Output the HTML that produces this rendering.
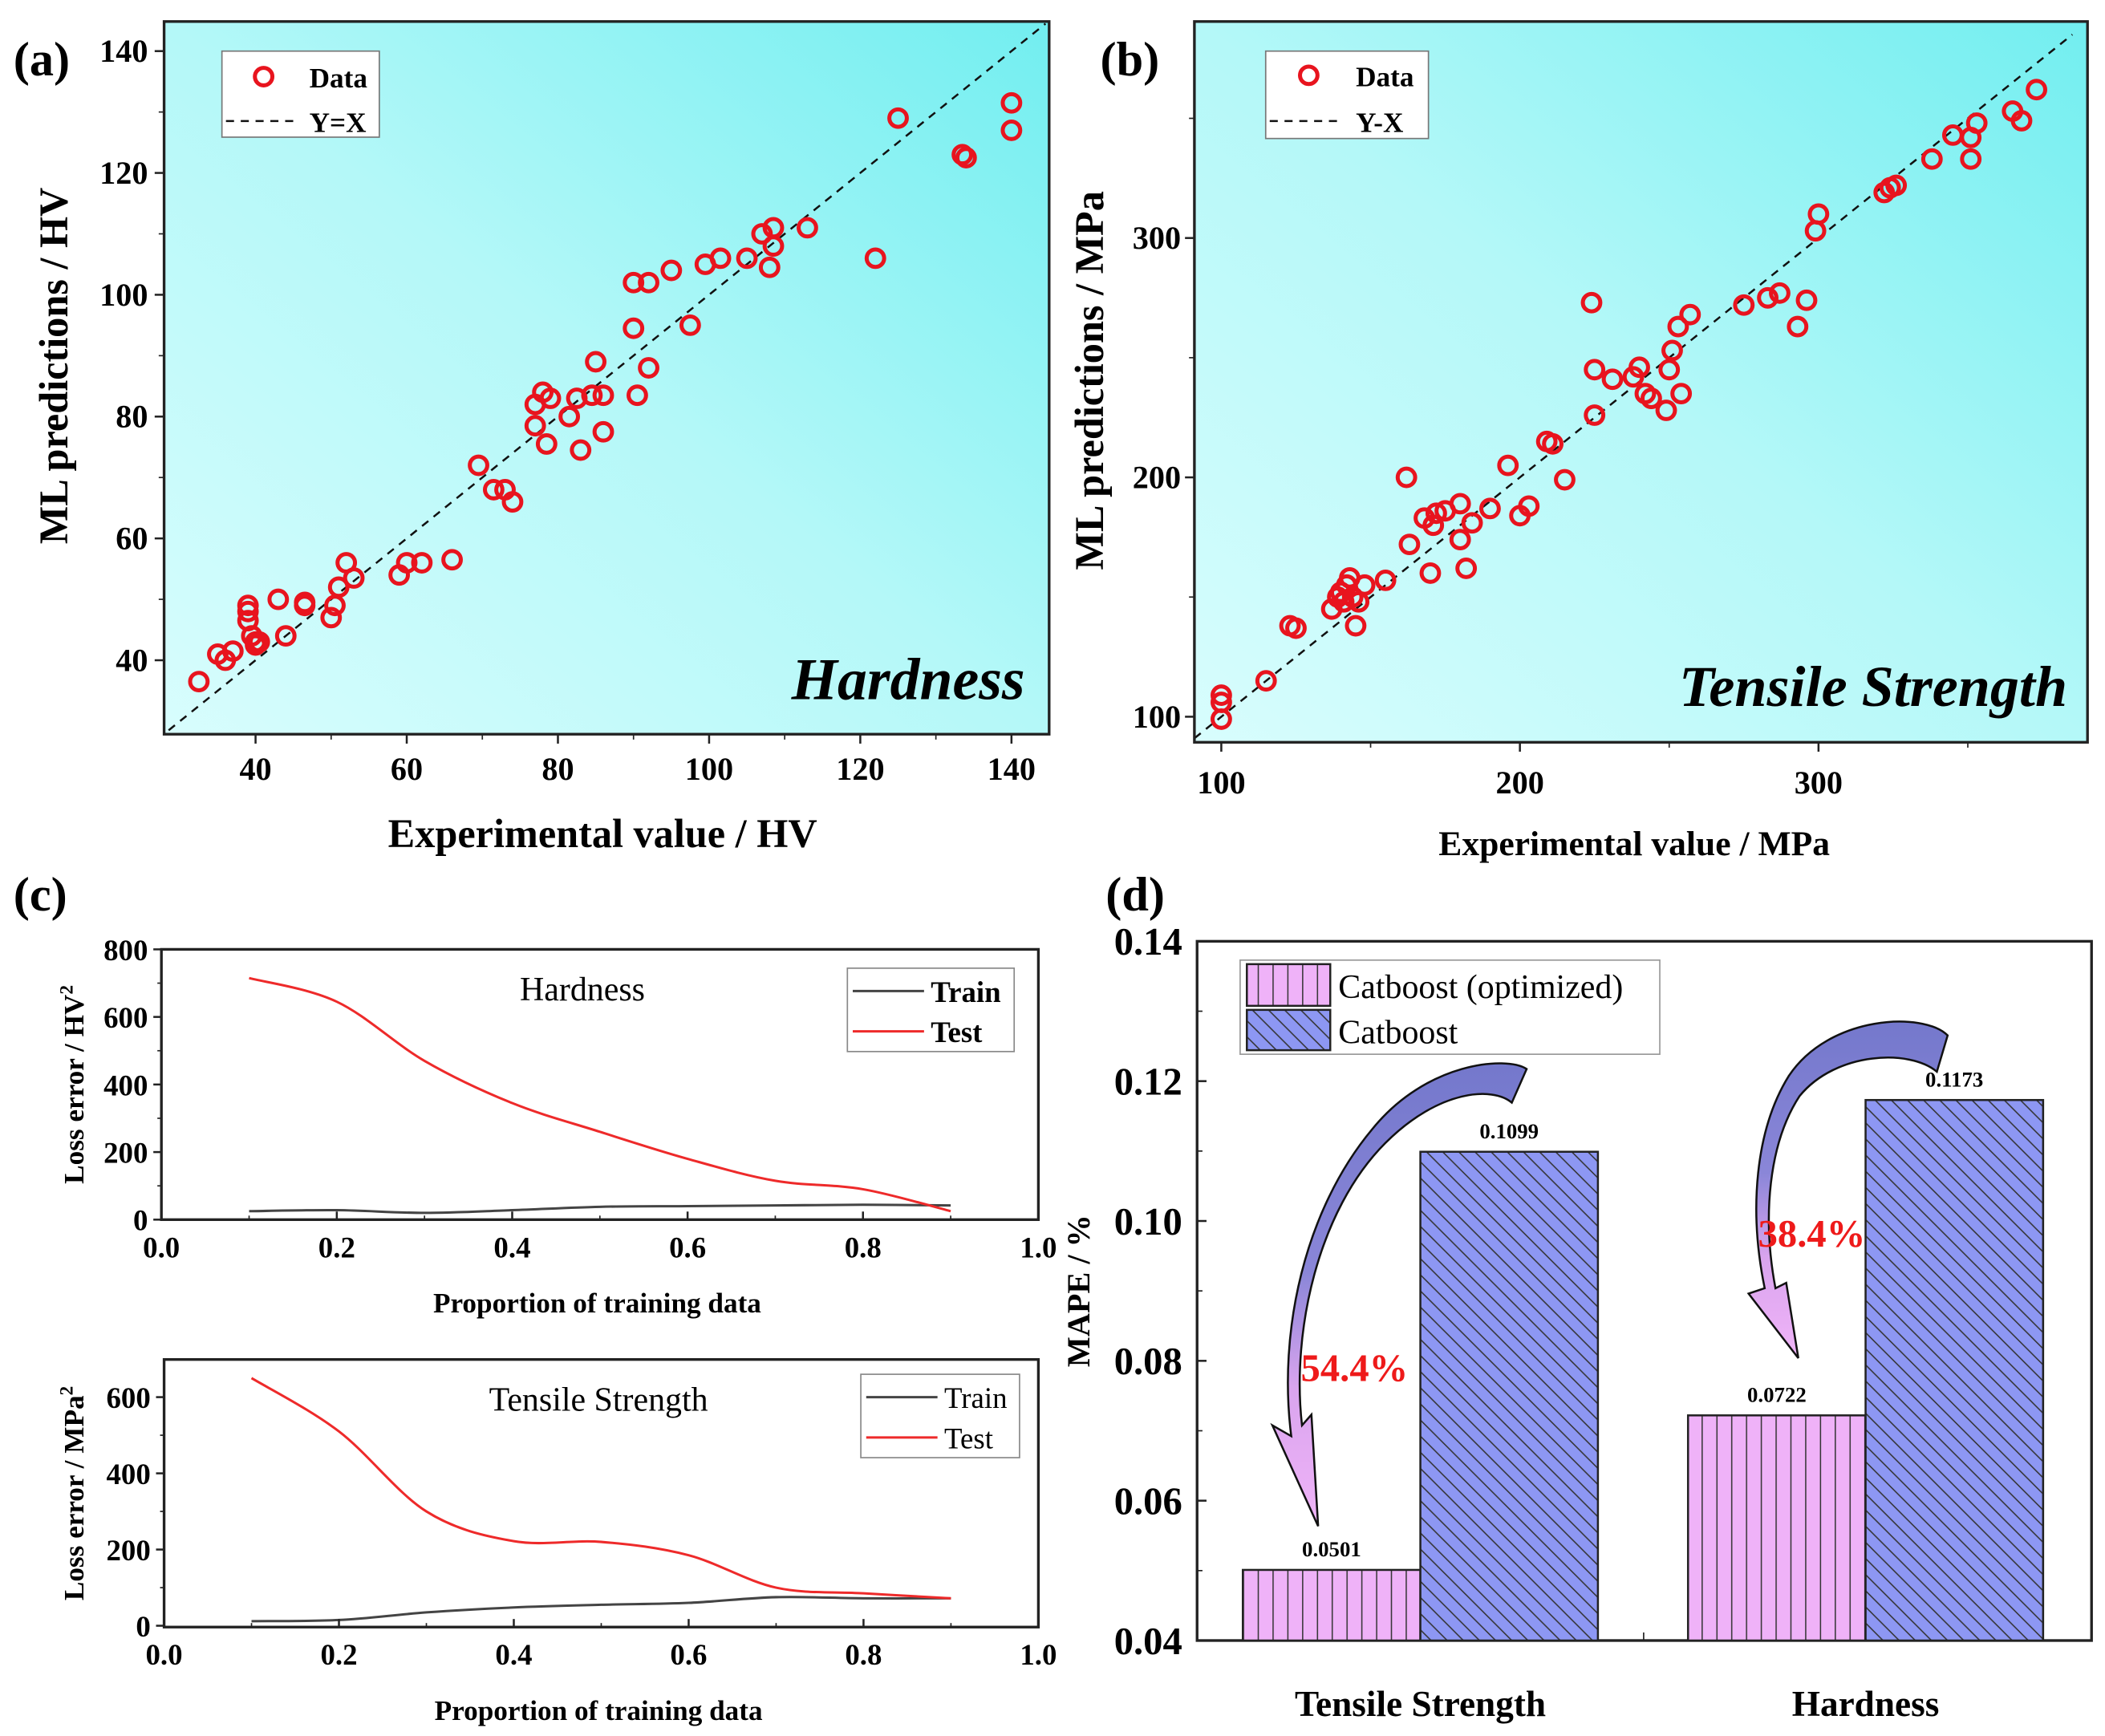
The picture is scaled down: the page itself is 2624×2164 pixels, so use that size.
<!DOCTYPE html>
<html><head><meta charset="utf-8"><style>
html,body{margin:0;padding:0;background:#fff;}
svg{display:block;font-family:"Liberation Serif",serif;}
</style></head><body>
<svg id="fig" width="2624" height="2164" viewBox="0 0 1565 1291" preserveAspectRatio="none" xmlns="http://www.w3.org/2000/svg">
<defs>
<linearGradient id="bgA" x1="0" y1="1" x2="1" y2="0"><stop offset="0" stop-color="#d8fdfd"/><stop offset="0.5" stop-color="#b4f8f8"/><stop offset="1" stop-color="#72eef0"/></linearGradient>
<pattern id="vhatch" width="11" height="10" patternUnits="userSpaceOnUse"><rect width="11" height="10" fill="#efb2f8"/><line x1="0.5" y1="0" x2="0.5" y2="10" stroke="#333" stroke-width="0.9"/></pattern>
<pattern id="dhatch" width="12" height="12" patternUnits="userSpaceOnUse"><rect width="12" height="12" fill="#8d97f3"/><path d="M-3,-3 L15,15 M-3,9 L3,15 M9,-3 L15,3" stroke="#333" stroke-width="0.9"/></pattern>
<linearGradient id="arr1" x1="0" y1="0" x2="0" y2="1"><stop offset="0" stop-color="#7478cc"/><stop offset="0.45" stop-color="#8a86d8"/><stop offset="0.7" stop-color="#d9a4ee"/><stop offset="1" stop-color="#f0b4f8"/></linearGradient>
</defs>
<g id="root"></g>
</svg>
<script>
// ---------- data ----------
const hardExp = [32.5,35,36,37,39,39,39,39.5,40,40,40.5,43,44,46.5,46.5,50,50.5,51,52,53,59,60,62,66,69.5,71.5,73,74,77,77,78,78.5,79,81.5,82.5,83,84.5,85,86,86,90,90,90.5,92,92,95,97.5,99.5,101.5,105,107,108,108.5,108.5,113,122,125,133.5,134,140,140];
const hardPred = [36.5,41,40,41.5,49,48,46.5,44,43,42.5,43,50,44,49,49.5,47,49,52,56,53.5,54,56,56,56.5,72,68,68,66,82,78.5,84,75.5,83,80,83,74.5,83.5,89,83.5,77.5,102,94.5,83.5,102,88,104,95,105,106,106,110,104.5,108,111,111,106,129,123,122.5,131.5,127];
const hardTicks = [40,60,80,100,120,140];
const tsExp = [100,100,100,115,123,125,137,139,140,141,142,143,144,145,146,148,155,162,163,168,170,171,172,175,180,180,182,184,190,196,200,203,209,211,215,224,225,225,231,238,240,242,244,249,250,251,253,254,257,275,283,287,293,296,299,300,322,324,326,338,345,351,351,353,365,368,373];
const tsPred = [99,106,109,115,138,137,145,150,152,148,155,158,150,138,148,155,157,200,172,183,160,180,185,186,174,189,162,181,187,205,184,188,215,214,199,273,245,226,241,242,246,235,233,228,245,253,263,235,268,272,275,277,263,274,303,310,319,321,322,333,343,333,342,348,353,349,362];
const tsTicks = [100,200,300];
const propX = [0.1,0.2,0.3,0.4,0.5,0.6,0.7,0.8,0.9];
const hardTest = [715,645,470,345,260,180,115,90,25];
const hardTrain = [25,28,20,28,38,40,42,44,42];
const tsTest = [650,510,300,222,220,185,100,85,72];
const tsTrain = [12,15,35,48,55,60,75,72,72];
const propTicks = [0.0,0.2,0.4,0.6,0.8,1.0];
const hardLossTicks = [0,200,400,600,800];
const tsLossTicks = [0,200,400,600];
const barCats = ["Tensile Strength","Hardness"];
const mapeOpt = [0.0501,0.0722];
const mapeBase = [0.1099,0.1173];
const mapeLabelsOpt = ["0.0501","0.0722"];
const mapeLabelsBase = ["0.1099","0.1173"];
const mapeTicks = [0.04,0.06,0.08,0.10,0.12,0.14];
const reductions = ["54.4%","38.4%"];

// ---------- helpers ----------
const NS="http://www.w3.org/2000/svg";
const root=document.getElementById('root');
function mk(tag,attrs,parent,text){const e=document.createElementNS(NS,tag);for(const k in attrs)e.setAttribute(k,attrs[k]);if(text!==undefined)e.textContent=text;(parent||root).appendChild(e);return e;}
function lin(d0,d1,r0,r1){return v=>r0+(v-d0)*(r1-r0)/(d1-d0);}
function smoothPath(pts){let d=`M${pts[0][0]},${pts[0][1]}`;for(let i=0;i<pts.length-1;i++){const p0=pts[i-1]||pts[i],p1=pts[i],p2=pts[i+1],p3=pts[i+2]||p2;const c1=[p1[0]+(p2[0]-p0[0])/6,p1[1]+(p2[1]-p0[1])/6],c2=[p2[0]-(p3[0]-p1[0])/6,p2[1]-(p3[1]-p1[1])/6];d+=` C${c1[0]},${c1[1]} ${c2[0]},${c2[1]} ${p2[0]},${p2[1]}`;}return d;}

// ---------- panel (a) ----------
(function(){
const g=mk('g',{});


const L=122,R=780,T=16,B=546;
const x=lin(40,140,190,752), y=lin(40,140,491,38);
const bg=mk('rect',{x:L,y:T,width:R-L,height:B-T,fill:'url(#bgA)'},g);


const diag=mk('line',{x1:x(28.5),y1:y(28.5),x2:x(144.5),y2:y(144.5),stroke:'#111','stroke-width':1.5,'stroke-dasharray':'6,5'},g);


hardExp.forEach((v,i)=>{const c=mk('circle',{cx:x(v),cy:y(hardPred[i]),r:6.5,fill:'none',stroke:'#e8141e','stroke-width':3},g);

});
mk('rect',{x:L,y:T,width:R-L,height:B-T,fill:'none',stroke:'#222','stroke-width':2},g);
hardTicks.forEach(t=>{mk('line',{x1:x(t),y1:B,x2:x(t),y2:B+7,stroke:'#222','stroke-width':1.5},g);
const tl=mk('text',{x:x(t),y:580,'font-size':24,'font-weight':'bold','text-anchor':'middle'},g,t);


mk('line',{x1:L,y1:y(t),x2:L-7,y2:y(t),stroke:'#222','stroke-width':1.5},g);
const yl=mk('text',{x:110,y:y(t)+8,'font-size':24,'font-weight':'bold','text-anchor':'end'},g,t);

});
[50,70,90,110,130].forEach(t=>{mk('line',{x1:x(t),y1:B,x2:x(t),y2:B+4,stroke:'#222'},g);mk('line',{x1:L,y1:y(t),x2:L-4,y2:y(t),stroke:'#222'},g);});
const xt=mk('text',{x:448,y:630,'font-size':30,'font-weight':'bold','text-anchor':'middle'},g,'Experimental value / HV');


const yt=mk('text',{x:0,y:0,'font-size':30,'font-weight':'bold','text-anchor':'middle',transform:'translate(50,272) rotate(-90)'},g,'ML predictions / HV');


const lb=mk('text',{x:10,y:56,'font-size':36,'font-weight':'bold'},g,'(a)');


const an=mk('text',{x:762,y:520,'font-size':44,'font-weight':'bold','font-style':'italic','text-anchor':'end'},g,'Hardness');


const lg=mk('g',{},g);


mk('rect',{x:165,y:38,width:117,height:64,fill:'#fff',stroke:'#777','stroke-width':1},lg);
mk('circle',{cx:196,cy:57,r:6.5,fill:'none',stroke:'#e8141e','stroke-width':3},lg);
mk('text',{x:230,y:65,'font-size':21,'font-weight':'bold'},lg,'Data');
mk('line',{x1:168,y1:90,x2:222,y2:90,stroke:'#111','stroke-width':1.5,'stroke-dasharray':'6,5'},lg);
mk('text',{x:230,y:98,'font-size':21,'font-weight':'bold'},lg,'Y=X');
})();

// ---------- panel (b) ----------
(function(){
const g=mk('g',{});


const L=888,R=1552,T=16,B=552;
const x=lin(100,300,908,1352), y=lin(100,300,533,177);
const bg=mk('rect',{x:L,y:T,width:R-L,height:B-T,fill:'url(#bgA)'},g);


const diag=mk('line',{x1:x(91),y1:y(91),x2:x(385),y2:y(385),stroke:'#111','stroke-width':1.5,'stroke-dasharray':'6,5'},g);


tsExp.forEach((v,i)=>{const c=mk('circle',{cx:x(v),cy:y(tsPred[i]),r:6.5,fill:'none',stroke:'#e8141e','stroke-width':3},g);

});
mk('rect',{x:L,y:T,width:R-L,height:B-T,fill:'none',stroke:'#222','stroke-width':2},g);
tsTicks.forEach(t=>{mk('line',{x1:x(t),y1:B,x2:x(t),y2:B+7,stroke:'#222','stroke-width':1.5},g);
const tl=mk('text',{x:x(t),y:590,'font-size':24,'font-weight':'bold','text-anchor':'middle'},g,t);


mk('line',{x1:L,y1:y(t),x2:L-7,y2:y(t),stroke:'#222','stroke-width':1.5},g);
const yl=mk('text',{x:878,y:y(t)+8,'font-size':24,'font-weight':'bold','text-anchor':'end'},g,t);

});
[150,250,350].forEach(t=>{mk('line',{x1:x(t),y1:B,x2:x(t),y2:B+4,stroke:'#222'},g);mk('line',{x1:L,y1:y(t),x2:L-4,y2:y(t),stroke:'#222'},g);});
const xt=mk('text',{x:1215,y:636,'font-size':26,'font-weight':'bold','text-anchor':'middle'},g,'Experimental value / MPa');


const yt=mk('text',{x:0,y:0,'font-size':30,'font-weight':'bold','text-anchor':'middle',transform:'translate(820,283) rotate(-90)'},g,'ML predictions / MPa');


const lb=mk('text',{x:818,y:56,'font-size':36,'font-weight':'bold'},g,'(b)');


const an=mk('text',{x:1537,y:525,'font-size':43,'font-weight':'bold','font-style':'italic','text-anchor':'end'},g,'Tensile Strength');


const lg=mk('g',{},g);


mk('rect',{x:941,y:38,width:121,height:65,fill:'#fff',stroke:'#777','stroke-width':1},lg);
mk('circle',{cx:973,cy:56,r:6.5,fill:'none',stroke:'#e8141e','stroke-width':3},lg);
mk('text',{x:1008,y:64,'font-size':21,'font-weight':'bold'},lg,'Data');
mk('line',{x1:944,y1:90,x2:998,y2:90,stroke:'#111','stroke-width':1.5,'stroke-dasharray':'6,5'},lg);
mk('text',{x:1008,y:98,'font-size':21,'font-weight':'bold'},lg,'Y-X');
})();

// ---------- panel (c) ----------
function lossPanel(name,L,R,T,B,ymax,yticks,yZeroPx,yRefVal,yRefPx,test,train,title,ytitle,sup,legend,legendBold,tickY,titleY){
const g=mk('g',{});


const x=lin(0,1,L,R), y=lin(0,yRefVal,yZeroPx,yRefPx);
mk('rect',{x:L,y:T,width:R-L,height:B-T,fill:'#fff',stroke:'#222','stroke-width':2},g);
const trp=propX.map((p,i)=>[x(p),y(train[i])]);
const tep=propX.map((p,i)=>[x(p),y(test[i])]);
const l1=mk('path',{d:smoothPath(trp),fill:'none',stroke:'#444','stroke-width':1.8},g);


const l2=mk('path',{d:smoothPath(tep),fill:'none',stroke:'#ee2a2a','stroke-width':1.8},g);


propTicks.forEach(t=>{mk('line',{x1:x(t),y1:B,x2:x(t),y2:B-6,stroke:'#222','stroke-width':1.5},g);
const tl=mk('text',{x:x(t),y:tickY,'font-size':22,'font-weight':'bold','text-anchor':'middle'},g,t.toFixed(1));

});
[0.1,0.3,0.5,0.7,0.9].forEach(t=>mk('line',{x1:x(t),y1:B,x2:x(t),y2:B-3,stroke:'#222'},g));
yticks.forEach(t=>{mk('line',{x1:L,y1:y(t),x2:L-6,y2:y(t),stroke:'#222','stroke-width':1.5},g);
const yl=mk('text',{x:L-10,y:y(t)+8,'font-size':22,'font-weight':'bold','text-anchor':'end'},g,t);


if(y(t+100)>T+2) mk('line',{x1:L,y1:y(t+100),x2:L-3,y2:y(t+100),stroke:'#222'},g);});
const xt=mk('text',{x:(L+R)/2-2,y:titleY,'font-size':21,'font-weight':'bold','text-anchor':'middle'},g,'Proportion of training data');


const yt=mk('text',{x:0,y:0,'font-size':21,'font-weight':'bold','text-anchor':'middle',transform:`translate(62,${(T+B)/2}) rotate(-90)`},g);


mk('tspan',{},yt,ytitle);mk('tspan',{'font-size':14,dy:-8},yt,sup);
const ti=mk('text',{x:title[1],y:title[2],'font-size':25,'text-anchor':'middle'},g,title[0]);


const lg=mk('g',{},g);


const [lx,ly,lw,lh]=legend;
mk('rect',{x:lx,y:ly,width:lw,height:lh,fill:'#fff',stroke:'#888','stroke-width':1},lg);
mk('line',{x1:lx+4,y1:ly+17,x2:lx+57,y2:ly+17,stroke:'#444','stroke-width':1.8},lg);
mk('text',{x:lx+62,y:ly+25,'font-size':22,'font-weight':legendBold?'bold':'normal'},lg,'Train');
mk('line',{x1:lx+4,y1:ly+47,x2:lx+57,y2:ly+47,stroke:'#ee2a2a','stroke-width':1.8},lg);
mk('text',{x:lx+62,y:ly+55,'font-size':22,'font-weight':legendBold?'bold':'normal'},lg,'Test');
}
lossPanel('panel-c-hardness-loss',120,772,706,907,800,hardLossTicks,907,800,706,hardTest,hardTrain,['Hardness',433,744],'Loss error / HV','2',[630,720,124,62],true,935,976);
lossPanel('panel-c-tensile-loss',122,772,1011,1210,700,tsLossTicks,1209,600,1039,tsTest,tsTrain,['Tensile Strength',445,1049],'Loss error / MPa','2',[640,1022,118,62],false,1238,1279);
(function(){const lb=mk('text',{x:10,y:677,'font-size':36,'font-weight':'bold'},root,'(c)');

})();

// ---------- panel (d) ----------
(function(){
const g=mk('g',{});


const L=890,R=1555,T=700,B=1220;
const y=lin(0.04,0.14,B,T);
const groupC=[1056,1387], bw=132;
mk('rect',{x:L,y:T,width:R-L,height:B-T,fill:'#fff',stroke:'#222','stroke-width':2},g);
mapeTicks.forEach(t=>{mk('line',{x1:L,y1:y(t),x2:L+7,y2:y(t),stroke:'#222','stroke-width':1.5},g);
const yl=mk('text',{x:879,y:y(t)+10,'font-size':29,'font-weight':'bold','text-anchor':'end'},g,t.toFixed(2));


if(t<0.14) mk('line',{x1:L,y1:y(t+0.01),x2:L+4,y2:y(t+0.01),stroke:'#222'},g);});
mk('line',{x1:1222,y1:B,x2:1222,y2:B-6,stroke:'#222'},g);
barCats.forEach((c,i)=>{
const b1=mk('rect',{x:groupC[i]-bw,y:y(mapeOpt[i]),width:bw,height:B-y(mapeOpt[i]),fill:'url(#vhatch)',stroke:'#222','stroke-width':1.5},g);


const b2=mk('rect',{x:groupC[i],y:y(mapeBase[i]),width:bw,height:B-y(mapeBase[i]),fill:'url(#dhatch)',stroke:'#222','stroke-width':1.5},g);


const t1=mk('text',{x:groupC[i]-bw/2,y:y(mapeOpt[i])-10,'font-size':16,'font-weight':'bold','text-anchor':'middle'},g,mapeLabelsOpt[i]);


const t2=mk('text',{x:groupC[i]+bw/2,y:y(mapeBase[i])-10,'font-size':16,'font-weight':'bold','text-anchor':'middle'},g,mapeLabelsBase[i]);


const cl=mk('text',{x:groupC[i],y:1276,'font-size':27,'font-weight':'bold','text-anchor':'middle'},g,c);


});
// arrows
const a1=mk('path',{d:'M1135,795 C1120,785 1060,790 1020,840 C970,900 950,990 960,1068 L946,1060 L980,1135 L975,1052 L968,1060 C960,990 980,900 1030,850 C1070,810 1110,808 1124,820 Z',fill:'url(#arr1)',stroke:'#111','stroke-width':1.5},g);


const a2=mk('path',{d:'M1448,770 C1430,752 1360,755 1330,800 C1305,840 1300,900 1312,958 L1300,962 L1337,1010 L1328,954 L1320,958 C1310,905 1315,850 1338,815 C1365,782 1420,780 1440,797 Z',fill:'url(#arr1)',stroke:'#111','stroke-width':1.5},g);


const p1=mk('text',{x:1007,y:1027,'font-size':29,'font-weight':'bold',fill:'#ee1a1a','text-anchor':'middle'},g,reductions[0]);


const p2=mk('text',{x:1347,y:927,'font-size':29,'font-weight':'bold',fill:'#ee1a1a','text-anchor':'middle'},g,reductions[1]);


const yt=mk('text',{x:0,y:0,'font-size':24,'font-weight':'bold','text-anchor':'middle',transform:'translate(810,960) rotate(-90)'},g,'MAPE / %');


const lb=mk('text',{x:822,y:677,'font-size':36,'font-weight':'bold'},g,'(d)');


const lg=mk('g',{},g);


mk('rect',{x:922,y:714,width:312,height:70,fill:'#fff',stroke:'#999','stroke-width':1},lg);
mk('rect',{x:927,y:717,width:62,height:31,fill:'url(#vhatch)',stroke:'#222','stroke-width':1.5},lg);
mk('rect',{x:927,y:751,width:62,height:30,fill:'url(#dhatch)',stroke:'#222','stroke-width':1.5},lg);
mk('text',{x:995,y:742,'font-size':25},lg,'Catboost (optimized)');
mk('text',{x:995,y:776,'font-size':25},lg,'Catboost');
})();
</script>
</body></html>
